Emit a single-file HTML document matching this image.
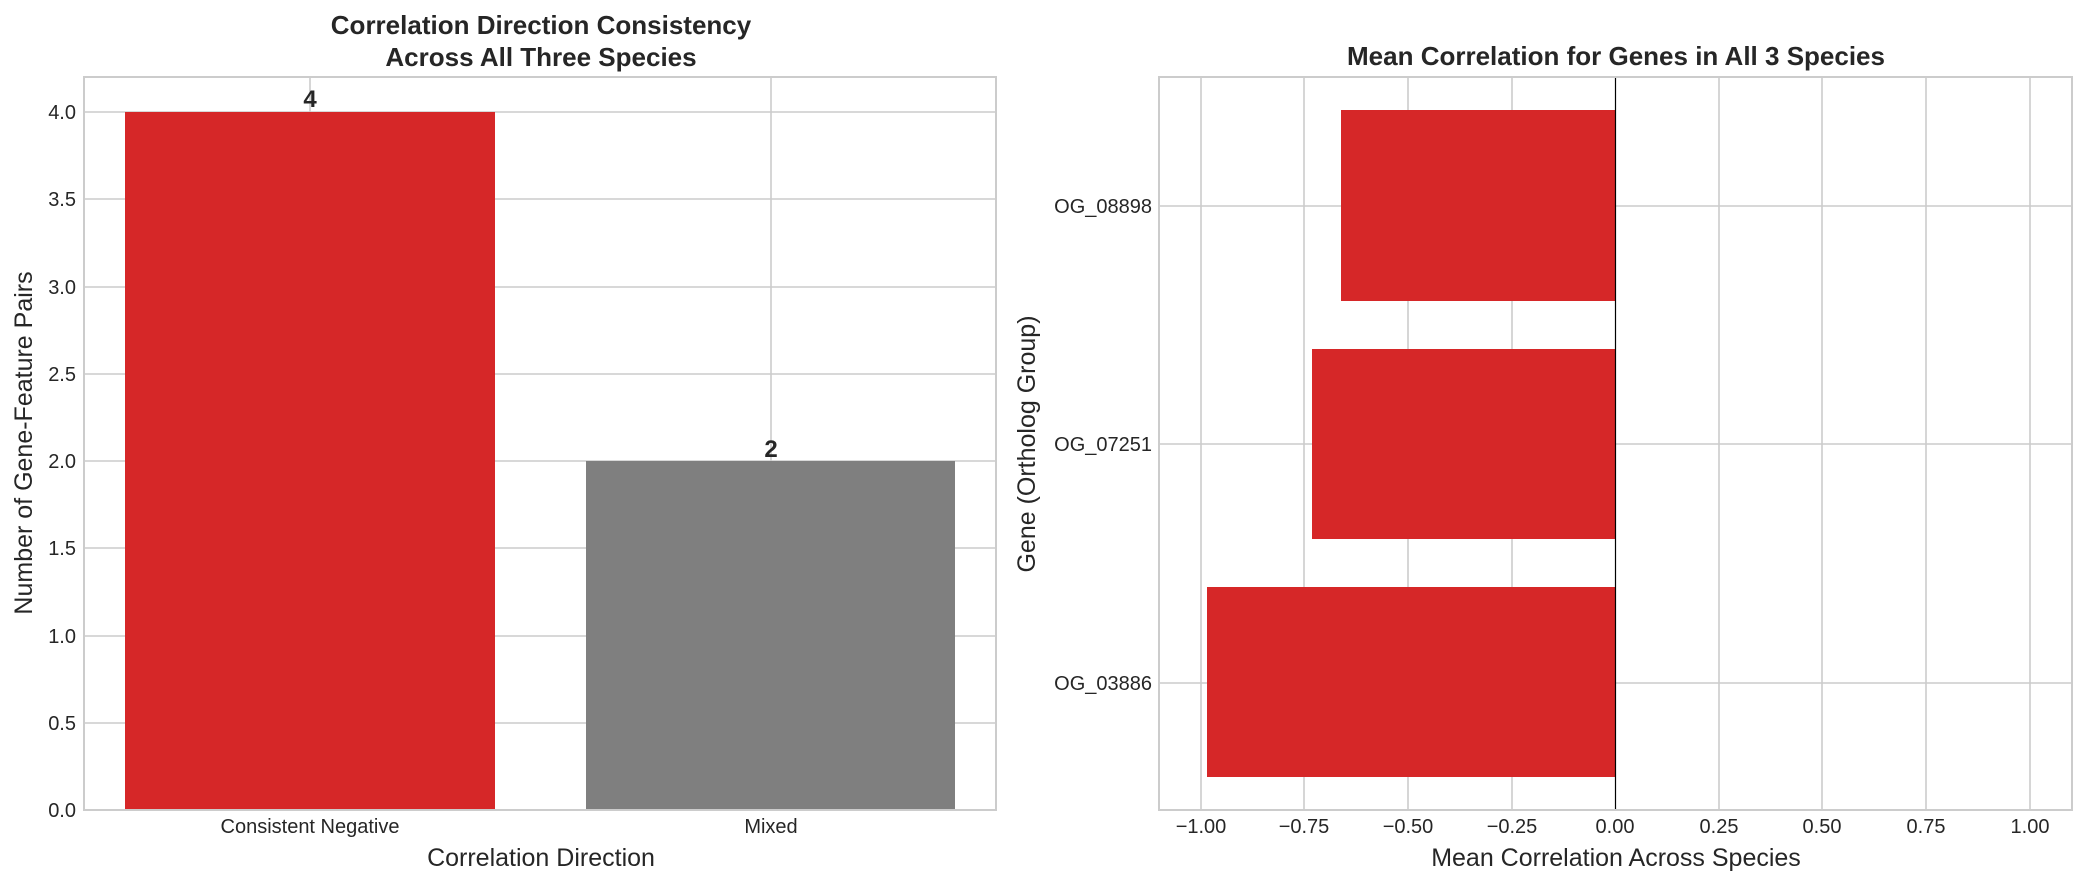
<!DOCTYPE html>
<html><head><meta charset="utf-8"><style>
html,body{margin:0;padding:0;background:#fff;}
svg{display:block;font-family:"Liberation Sans",sans-serif;}
</style></head><body>
<svg width="2086" height="885" viewBox="0 0 2086 885" xmlns="http://www.w3.org/2000/svg">
<rect width="2086" height="885" fill="#fff"/>
<!-- LEFT -->
<g stroke="#cccccc" stroke-width="1.6">
<line x1="84" x2="996" y1="810" y2="810"/>
<line x1="84" x2="996" y1="723" y2="723"/>
<line x1="84" x2="996" y1="636" y2="636"/>
<line x1="84" x2="996" y1="548" y2="548"/>
<line x1="84" x2="996" y1="461" y2="461"/>
<line x1="84" x2="996" y1="374" y2="374"/>
<line x1="84" x2="996" y1="287" y2="287"/>
<line x1="84" x2="996" y1="199" y2="199"/>
<line x1="84" x2="996" y1="112" y2="112"/>
<line x1="310" x2="310" y1="77" y2="810"/>
<line x1="771" x2="771" y1="77" y2="810"/>
</g>
<rect x="125" y="112" width="370" height="698" fill="#d62728"/>
<rect x="586" y="461" width="369" height="349" fill="#7f7f7f"/>
<rect x="84" y="77" width="912" height="733" fill="none" stroke="#cccccc" stroke-width="2"/>
<g font-size="20" fill="#262626" text-anchor="end">
<text x="76" y="817">0.0</text><text x="76" y="730">0.5</text><text x="76" y="643">1.0</text>
<text x="76" y="555">1.5</text><text x="76" y="468">2.0</text><text x="76" y="381">2.5</text>
<text x="76" y="294">3.0</text><text x="76" y="206">3.5</text><text x="76" y="119">4.0</text>
</g>
<g font-size="20" fill="#262626" text-anchor="middle">
<text x="310" y="833">Consistent Negative</text><text x="771" y="833">Mixed</text>
</g>
<text x="541" y="866" font-size="25" fill="#262626" text-anchor="middle">Correlation Direction</text>
<text transform="translate(32,443) rotate(-90)" font-size="25" fill="#262626" text-anchor="middle">Number of Gene-Feature Pairs</text>
<g font-size="26" font-weight="bold" fill="#262626" text-anchor="middle">
<text x="310" y="107" font-size="24">4</text><text x="771" y="457" font-size="24">2</text>
<text x="541" y="34">Correlation Direction Consistency</text>
<text x="541" y="66">Across All Three Species</text>
<text x="1616" y="65">Mean Correlation for Genes in All 3 Species</text>
</g>
<!-- RIGHT -->
<g stroke="#cccccc" stroke-width="1.6">
<line x1="1201" x2="1201" y1="77" y2="810"/><line x1="1304" x2="1304" y1="77" y2="810"/>
<line x1="1408" x2="1408" y1="77" y2="810"/><line x1="1512" x2="1512" y1="77" y2="810"/>
<line x1="1719" x2="1719" y1="77" y2="810"/><line x1="1822" x2="1822" y1="77" y2="810"/>
<line x1="1926" x2="1926" y1="77" y2="810"/><line x1="2030" x2="2030" y1="77" y2="810"/>
<line x1="1159" x2="2072" y1="206" y2="206"/><line x1="1159" x2="2072" y1="444" y2="444"/>
<line x1="1159" x2="2072" y1="683" y2="683"/>
</g>
<rect x="1341" y="110" width="274" height="191" fill="#d62728"/>
<rect x="1312" y="349" width="303" height="190" fill="#d62728"/>
<rect x="1207" y="587" width="408" height="190" fill="#d62728"/>
<line x1="1615.5" x2="1615.5" y1="77" y2="810" stroke="#000" stroke-width="1.2"/>
<rect x="1159" y="77" width="913" height="733" fill="none" stroke="#cccccc" stroke-width="2"/>
<g font-size="20" fill="#262626" text-anchor="end">
<text x="1152" y="213">OG_08898</text><text x="1152" y="451">OG_07251</text><text x="1152" y="690">OG_03886</text>
</g>
<g font-size="20" fill="#262626" text-anchor="middle">
<text x="1201" y="833">−1.00</text><text x="1304" y="833">−0.75</text><text x="1408" y="833">−0.50</text>
<text x="1512" y="833">−0.25</text><text x="1615" y="833">0.00</text><text x="1719" y="833">0.25</text>
<text x="1822" y="833">0.50</text><text x="1926" y="833">0.75</text><text x="2030" y="833">1.00</text>
</g>
<text x="1616" y="866" font-size="25" fill="#262626" text-anchor="middle">Mean Correlation Across Species</text>
<text transform="translate(1035,444) rotate(-90)" font-size="25" fill="#262626" text-anchor="middle">Gene (Ortholog Group)</text>
</svg>
</body></html>
